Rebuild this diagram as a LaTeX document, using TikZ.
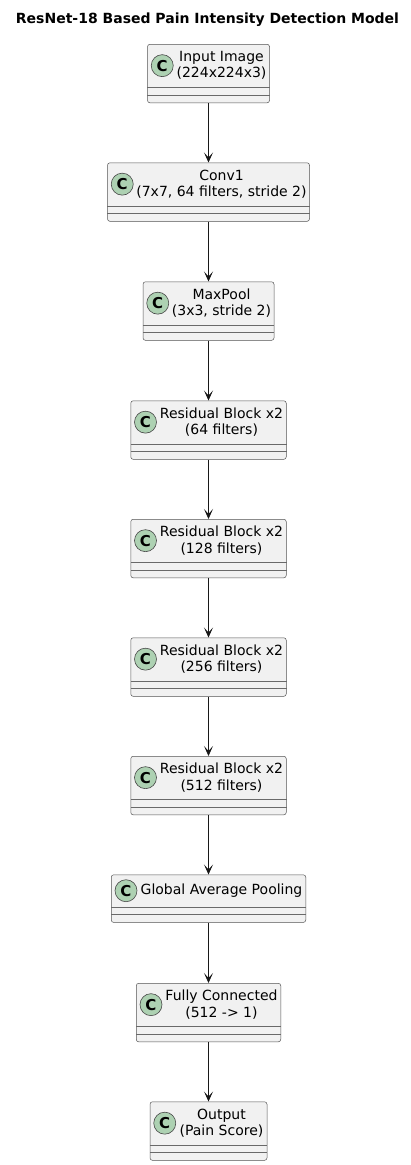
\documentclass[tikz,border=0pt]{standalone}
\usepackage{fontspec}
\setmainfont{DejaVu Sans}
\usetikzlibrary{arrows.meta}

\definecolor{boxfill}{HTML}{F1F1F1}
\definecolor{boxline}{HTML}{181818}
\definecolor{iconfill}{HTML}{ADD1B2}

\tikzset{
  classbox/.style={draw=boxline!75, fill=boxfill, rounded corners=2.5pt, line width=0.5pt, inner sep=0pt, anchor=north},
  classicon/.style={circle, draw=boxline!80, fill=iconfill, minimum size=22pt, inner sep=0pt, line width=0.6pt, font=\bfseries\fontsize{15}{15}\selectfont},
  classname/.style={align=center, inner sep=0pt, font=\fontsize{14}{16.3}\selectfont},
  classline/.style={draw=boxline!65, line width=0.5pt},
  flow/.style={-{Stealth[length=10pt,width=9pt,inset=5pt]}, draw=boxline, line width=0.8pt}
}

\begin{document}
\begin{tikzpicture}[x=1pt, y=-1pt]

\useasboundingbox (0,0) rectangle (410,1165);

%title
\node[anchor=base, font=\bfseries\fontsize{14}{16}\selectfont] (title) at (207.5,23.5) {ResNet-18 Based Pain Intensity Detection Model};

%classes
\foreach \cname/\ctop/\cwd/\chd/\ctext in {inp/44/122/43.3/{Input Image\\(224x224x3)}, conv/162.5/202/43.3/{Conv1\\(7x7, 64 filters, stride 2)}, pool/281.5/131/43.3/{MaxPool\\(3x3, stride 2)}, resa/400.5/155.5/43.3/{Residual Block x2\\(64 filters)}, resb/519/155.5/43.3/{Residual Block x2\\(128 filters)}, resc/637.5/155.5/43.3/{Residual Block x2\\(256 filters)}, resd/756/155.5/43.3/{Residual Block x2\\(512 filters)}, gap/874.5/194.5/32.4/{Global Average Pooling}, fc/983/144.5/43.3/{Fully Connected\\(512 -> 1)}, out/1101.5/117/43.3/{Output\\(Pain Score)}}
{
  \pgfmathsetmacro{\cfull}{\chd+15.3}
  \pgfmathsetmacro{\cmid}{\chd/2}
  \pgfmathsetmacro{\csep}{\chd+7.6}
  \node[classbox, minimum width=\cwd pt, minimum height=\cfull pt] (\cname) at (208.5,\ctop) {};
  \draw[classline] ([yshift=-\chd pt]\cname.north west) -- ([yshift=-\chd pt]\cname.north east);
  \draw[classline] ([yshift=-\csep pt]\cname.north west) -- ([yshift=-\csep pt]\cname.north east);
  \node[classicon] (\cname-icon) at ([xshift=15pt, yshift=-\cmid pt]\cname.north west) {C};
  \node[classname] (\cname-text) at ([xshift=13pt, yshift=-\cmid pt]\cname.north) {\ctext};
}

%arrows
\foreach \a/\b in {inp/conv, conv/pool, pool/resa, resa/resb, resb/resc, resc/resd, resd/gap, gap/fc, fc/out}
  \draw[flow] (\a.south) -- (\b.north);

\end{tikzpicture}
\end{document}
